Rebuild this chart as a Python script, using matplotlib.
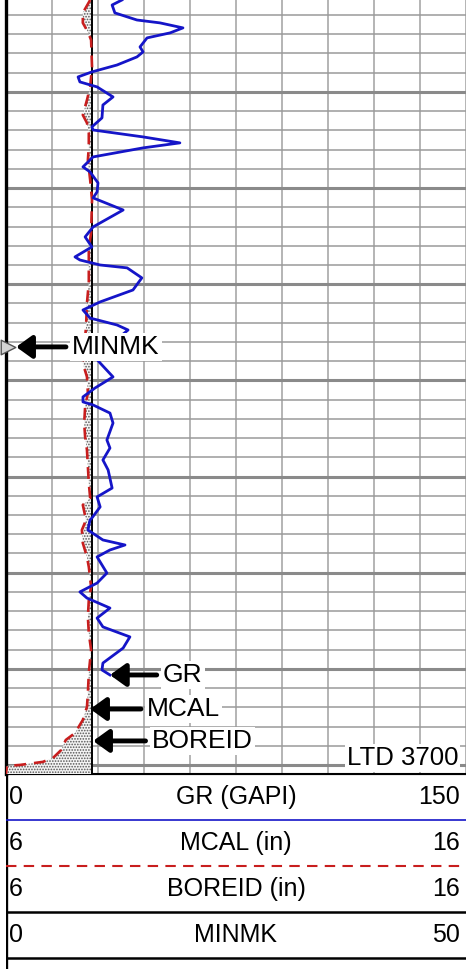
import numpy as np
import matplotlib.pyplot as plt

plt.rcParams['font.family'] = ['Liberation Sans', 'DejaVu Sans']
plt.rcParams['hatch.linewidth'] = 0.8

# gamma ray (GAPI) against depth (m)
gr_depth = [3660.22, 3660.48, 3660.89, 3661.26, 3661.41, 3661.67, 3661.93, 3662.19, 3662.66, 3662.92,
            3663.18, 3663.60, 3663.96, 3664.22, 3664.48, 3664.74, 3665.26, 3665.68, 3666.35, 3666.82,
            3666.98, 3667.34, 3667.65, 3667.91, 3668.38, 3668.90, 3669.16, 3669.73, 3670.20, 3670.51,
            3671.14, 3672.02, 3672.54, 3673.06, 3673.58, 3673.74, 3674.00, 3674.15, 3674.67, 3675.30,
            3675.92, 3676.34, 3676.76, 3677.12, 3677.38, 3678.16, 3678.60, 3679.10, 3679.82, 3680.40,
            3680.86, 3681.12, 3681.28, 3681.70, 3682.22, 3683.10, 3683.52, 3684.14, 3684.66, 3685.60,
            3686.06, 3686.58, 3687.16, 3687.26, 3687.78, 3688.30, 3688.56, 3688.82, 3689.18, 3690.02,
            3690.54, 3691.00, 3691.32, 3691.84, 3692.36, 3692.82, 3693.34, 3693.92, 3694.70, 3695.06,
            3695.32]
gr_value = [37.8, 34.6, 35.5, 42.7, 50.2, 57.7, 53.5, 46.0, 43.7, 44.7,
            42.7, 36.2, 28.0, 23.5, 24.1, 29.7, 34.9, 31.6, 31.3, 28.0,
            28.4, 44.7, 56.7, 44.7, 28.4, 25.1, 27.4, 30.0, 29.7, 28.4,
            38.2, 28.4, 25.8, 28.0, 22.5, 24.1, 30.7, 39.5, 44.3, 41.4,
            30.7, 25.1, 27.4, 36.2, 39.8, 33.9, 28.0, 30.7, 34.9, 29.0,
            25.1, 25.1, 28.4, 33.9, 34.9, 32.9, 33.9, 31.6, 33.3, 34.6,
            29.7, 30.7, 28.0, 27.4, 26.7, 31.6, 38.8, 33.9, 29.7, 32.9,
            29.7, 24.1, 26.4, 33.9, 29.7, 31.6, 40.4, 38.2, 31.6, 31.3,
            33.9]

# caliper MCAL (in)
cal_depth = [3660.22, 3660.89, 3661.41, 3661.88, 3662.30, 3663.70, 3664.74, 3665.42, 3666.20, 3666.61,
             3667.13, 3667.86, 3668.54, 3669.58, 3670.62, 3672.33, 3673.12, 3674.93, 3675.98, 3677.22,
             3679.10, 3679.82, 3680.66, 3681.38, 3682.22, 3682.94, 3683.62, 3685.34, 3686.12, 3686.48,
             3687.26, 3687.78, 3688.46, 3689.18, 3689.70, 3690.74, 3691.42, 3692.30, 3693.14, 3694.02,
             3695.22, 3696.26, 3696.98, 3697.66, 3698.34, 3698.70, 3699.22, 3699.64, 3699.84, 3700.00,
             3700.05, 3700.47]
cal_value = [7.83, 7.67, 7.67, 7.78, 7.85, 7.87, 7.83, 7.76, 7.67, 7.76,
             7.80, 7.80, 7.78, 7.83, 7.87, 7.85, 7.80, 7.80, 7.76, 7.74,
             7.67, 7.76, 7.78, 7.72, 7.70, 7.72, 7.76, 7.80, 7.83, 7.67,
             7.74, 7.65, 7.67, 7.76, 7.80, 7.85, 7.80, 7.78, 7.80, 7.85,
             7.80, 7.78, 7.76, 7.67, 7.50, 7.30, 7.20, 7.02, 6.80, 6.30,
             6.02, 6.00]

boreid = 7.875          # bit size line
minmk_depth = 3678.26
minmk_value = 0.2
ltd = 3700

top_depth, bot_depth = 3660.22, 3700.47

hdr_names = ['GR (GAPI)', 'MCAL (in)', 'BOREID (in)', 'MINMK']
hdr_left = ['0', '6', '6', '0']
hdr_right = ['150', '16', '16', '50']

gr_col = '#1515c8'
cal_col = '#c81e1e'

fig = plt.figure(figsize=(4.66, 9.69), dpi=100)

# ---- track with grid
trk = fig.add_axes([6/466, 195/969, 460/466, 774/969])
trk.set_xlim(0, 150)
trk.set_ylim(bot_depth, top_depth)
trk.set_xticks(np.arange(0, 151, 15))
trk.set_yticks(np.arange(3665, 3701, 5))
trk.set_yticks(np.arange(3661, 3701, 1), minor=True)
trk.grid(axis='x', which='major', color='#b4b4b4', lw=1.4)
trk.grid(axis='y', which='minor', color='#9a9a9a', lw=1.1)
trk.grid(axis='y', which='major', color='#8a8a8a', lw=2.2)
trk.tick_params(which='both', length=0, labelbottom=False, labelleft=False)
for s in ['top', 'right']:
    trk.spines[s].set_visible(False)
trk.spines['left'].set_linewidth(2.4)
trk.spines['bottom'].set_linewidth(1.5)

# ---- caliper + bit size
cal = trk.twiny()
cal.set_xlim(6, 16)
cal.fill_betweenx(cal_depth, cal_value, boreid,
                  where=np.array(cal_value) < boreid, interpolate=True,
                  facecolor='#f4f4f4', edgecolor='#555555', hatch='......', lw=0)
cal.axvline(boreid, color='black', lw=1.4)
cal.plot(cal_value, cal_depth, color=cal_col, lw=1.9, ls=(0, (4.5, 3)))

# ---- gamma ray
gr = trk.twiny()
gr.set_xlim(0, 150)
gr.plot(gr_value, gr_depth, color=gr_col, lw=2.0, solid_joinstyle='round')

# ---- marker axis and labels on top
mk = trk.twiny()
mk.set_xlim(0, 50)
mk.scatter([minmk_value], [minmk_depth], marker='>', s=110, facecolor='#d4d4d4',
           edgecolor='#555555', lw=1.0, clip_on=False, zorder=5)

for a in [cal, gr, mk]:
    a.set_ylim(bot_depth, top_depth)
    a.axis('off')

box = dict(boxstyle='square,pad=0.08', fc='white', ec='none')
arr = dict(arrowstyle='-|>,head_length=0.5,head_width=0.36', color='black',
           lw=3.5, shrinkA=3, shrinkB=0)

mk.annotate('MINMK', xy=(minmk_value, minmk_depth), xytext=(7.2, minmk_depth),
            xycoords=mk.transData, textcoords=mk.transData, fontsize=19,
            va='center', ha='left', bbox=box, arrowprops=dict(arr, shrinkB=6), zorder=6)
mk.annotate('GR', xy=(gr_value[-1], gr_depth[-1]), xytext=(51.2, gr_depth[-1]),
            xycoords=gr.transData, textcoords=gr.transData, fontsize=19,
            va='center', ha='left', bbox=box, arrowprops=arr, zorder=6)
mk.annotate('MCAL', xy=(7.83, 3697.09), xytext=(9.07, 3697.09),
            xycoords=cal.transData, textcoords=cal.transData, fontsize=19,
            va='center', ha='left', bbox=box, arrowprops=arr, zorder=6)
mk.annotate('BOREID', xy=(boreid + 0.02, 3698.75), xytext=(9.17, 3698.75),
            xycoords=cal.transData, textcoords=cal.transData, fontsize=19,
            va='center', ha='left', bbox=box, arrowprops=arr, zorder=6)
mk.text(147.5, ltd, 'LTD %d' % ltd, transform=gr.transData, fontsize=18.5,
        ha='right', va='baseline', bbox=dict(boxstyle='square,pad=0.06', fc='white', ec='none'),
        zorder=6)

# ---- header
hdr = fig.add_axes([6/466, 0, 460/466, 195/969])
hdr.set_xlim(0, 1)
hdr.set_ylim(195/46, 0)
hdr.axis('off')
hdr.axvline(0, color='black', lw=2.4)
hdr.axhline(0, color='black', lw=1.5)
hdr.axhline(1, color=gr_col, lw=1.2)
hdr.axhline(2, color=cal_col, lw=1.5, ls=(0, (5, 3.5)))
hdr.axhline(3, color='black', lw=1.8)
hdr.axhline(4, color='black', lw=1.8)
for i in range(4):
    hdr.text(0.006, i + 0.5, hdr_left[i], ha='left', va='center', fontsize=18)
    hdr.text(0.5, i + 0.5, hdr_names[i], ha='center', va='center', fontsize=18)
    hdr.text(0.986, i + 0.5, hdr_right[i], ha='right', va='center', fontsize=18)

fig.savefig('out.png', dpi=100)
